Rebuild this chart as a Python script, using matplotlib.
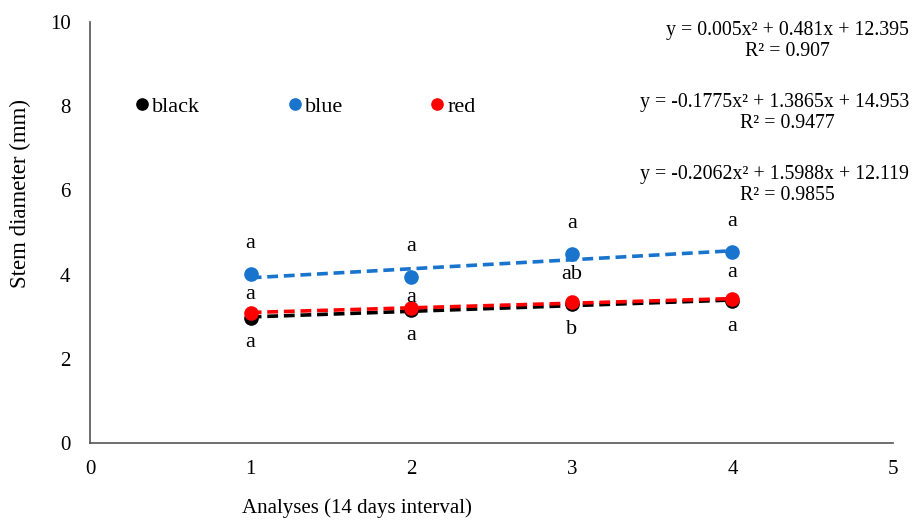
import matplotlib
matplotlib.use("Agg")
import matplotlib.pyplot as plt
import numpy as np

# analyses (14 days interval)
analyses = [1, 2, 3, 4]

# stem diameter (mm) per colour treatment
black_vals = [2.97, 3.15, 3.29, 3.37]
blue_vals = [4.01, 3.94, 4.49, 4.54]
red_vals = [3.09, 3.21, 3.35, 3.41]

# significance letters
blue_top = ["a", "a", "a", "a"]
blue_bottom = ["a", "a", "ab", "a"]
black_bottom = ["a", "a", "b", "a"]

equations = [
    ("y = 0.005x² + 0.481x + 12.395", "R² = 0.907"),
    ("y = -0.1775x² + 1.3865x + 14.953", "R² = 0.9477"),
    ("y = -0.2062x² + 1.5988x + 12.119", "R² = 0.9855"),
]

plt.rcParams.update({
    "font.family": ["Liberation Serif", "DejaVu Serif"],
    "font.size": 15,
})

fig = plt.figure(figsize=(9.16, 5.25), dpi=100)
ax = fig.add_axes([0.0983, 0.1562, 0.8767, 0.802])

series = [
    ("black", black_vals, "#000000"),
    ("blue", blue_vals, "#1874CD"),
    ("red", red_vals, "#FF0000"),
]

x = np.array(analyses)
# trendlines first; red over black like the original
for name, vals, color in [series[0], series[2], series[1]]:
    a, b = np.polyfit(x, vals, 1)
    ax.plot(x, a * x + b, linestyle=(0, (3, 1.6)), color=color, lw=2.6, zorder=2)

for name, vals, color in series:
    ax.plot(x, vals, "o", color=color, ms=9.5, label=name, zorder=3)

for xi, yv, lt, lb in zip(analyses, blue_vals, blue_top, blue_bottom):
    ax.annotate(lt, (xi, yv), xytext=(0, 22), textcoords="offset points",
                ha="center", va="center", fontsize=16)
    ax.annotate(lb, (xi, yv), xytext=(0, -15), textcoords="offset points",
                ha="center", va="center", fontsize=16)
for xi, yv, lb in zip(analyses, black_vals, black_bottom):
    ax.annotate(lb, (xi, yv), xytext=(0, -18), textcoords="offset points",
                ha="center", va="center", fontsize=16)

# equation lines right aligned, R² lines centred below them
for i, (eq, r2) in enumerate(equations):
    y0 = 0.979 - i * 0.171
    ax.text(1.02, y0, eq, transform=ax.transAxes, ha="right", va="center", fontsize=14.3)
    ax.text(0.868, y0 - 0.05, r2, transform=ax.transAxes, ha="center", va="center", fontsize=14.3)

ax.set_xlim(0, 5)
ax.set_ylim(0, 10)
ax.set_xticks(range(0, 6))
ax.set_yticks(range(0, 11, 2))
ax.tick_params(length=0, labelsize=15)
ax.tick_params(axis="x", pad=12)
ax.tick_params(axis="y", pad=14)
for side in ["top", "right"]:
    ax.spines[side].set_visible(False)
for side in ["left", "bottom"]:
    ax.spines[side].set_color("#555555")
    ax.spines[side].set_linewidth(1.2)

fig.text(357 / 916, 1 - 508 / 525, "Analyses (14 days interval)", ha="center", va="center", fontsize=15)
fig.text(20 / 916, 1 - 193 / 525, "Stem diameter (mm)", rotation=90, ha="center", va="center", fontsize=16.5)

ax.legend(loc="center left", bbox_to_anchor=(0.058, 0.798), ncol=3, frameon=False,
          handlelength=0.5, handletextpad=0.2, columnspacing=4.0, fontsize=16,
          markerscale=0.85, borderpad=0, borderaxespad=0)

fig.savefig("out.png", dpi=100, facecolor="white")
